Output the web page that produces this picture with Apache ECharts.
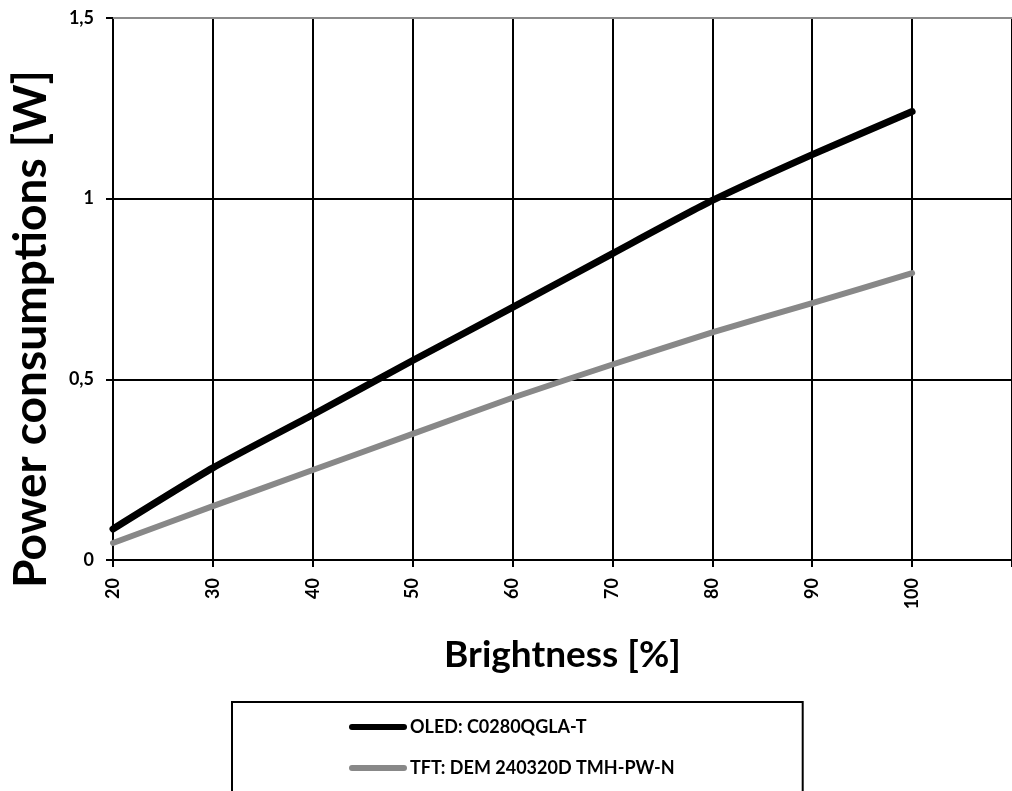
<!DOCTYPE html>
<html>
<head>
<meta charset="utf-8">
<script src="https://cdn.jsdelivr.net/npm/echarts@6/dist/echarts.min.js"></script>
<style>
html,body{margin:0;padding:0;background:#fff;}
#chart{width:1012px;height:791px;}
</style>
</head>
<body>
<div id="chart"></div>
<script>
var brightness = [20, 30, 40, 50, 60, 70, 80, 90, 100];
var oledPower = [0.086, 0.255, 0.402, 0.552, 0.699, 0.848, 0.995, 1.122, 1.241];
var tftPower = [0.047, 0.149, 0.249, 0.349, 0.449, 0.541, 0.630, 0.711, 0.794];
var seriesNames = ['OLED: C0280QGLA-T', 'TFT: DEM 240320D TMH-PW-N'];
var xTitle = 'Brightness [%]';
var yTitle = 'Power consumptions [W]';

function pairs(xs, ys) { return xs.map(function (x, i) { return [x, ys[i]]; }); }

var FONT = 'Lato';
var chart = echarts.init(document.getElementById('chart'), null, {renderer: 'canvas'});
var pill = 'path://M3,0 H55 A3,3 0 0 1 55,6 H3 A3,3 0 0 1 3,0 Z';
chart.setOption({
  animation: false,
  backgroundColor: '#fff',
  grid: {left: 113, right: -7.3, top: 18, bottom: 231, containLabel: false},
  xAxis: [{
    type: 'value', min: 20, max: 110, interval: 10,
    name: xTitle, nameLocation: 'middle', nameGap: 77,
    nameTextStyle: {fontFamily: FONT, fontWeight: 'bold', fontSize: 37, color: '#000'},
    axisLine: {show: true, lineStyle: {color: '#000', width: 2}},
    axisTick: {show: true, length: 7, lineStyle: {color: '#000', width: 2}},
    axisLabel: {rotate: 90, margin: 18, fontFamily: FONT, fontWeight: 'bold', fontSize: 18, color: '#000',
      formatter: function (v) { return v > 100 ? '' : String(v); }},
    splitLine: {show: true, lineStyle: {color: '#000', width: 2}}
  }, {
    type: 'value', position: 'top', min: 20, max: 110,
    axisLine: {show: true, onZero: false, lineStyle: {color: '#8c8c8c', width: 2}},
    axisTick: {show: false}, axisLabel: {show: false}, splitLine: {show: false}
  }],
  yAxis: {
    type: 'value', min: 0, max: 1.5, interval: 0.5,
    name: yTitle, nameLocation: 'middle', nameGap: 59,
    nameTextStyle: {fontFamily: FONT, fontWeight: 'bold', fontSize: 46, color: '#000', padding: [0, 80, 0, 0]},
    axisLine: {show: true, lineStyle: {color: '#000', width: 2}},
    axisTick: {show: true, length: 7, lineStyle: {color: '#000', width: 2}},
    axisLabel: {margin: 19, fontFamily: FONT, fontWeight: 'bold', fontSize: 18, color: '#000',
      formatter: function (v) { return String(v).replace('.', ','); }},
    splitLine: {show: true, lineStyle: {color: '#000', width: 2}}
  },
  legend: {
    orient: 'vertical', left: 232, top: 702, height: 200,
    padding: [16, 128, 30, 117],
    itemGap: 23, itemWidth: 58, itemHeight: 6,
    borderColor: '#000', borderWidth: 2, backgroundColor: '#fff',
    textStyle: {fontFamily: FONT, fontWeight: 'bold', fontSize: 18, color: '#000', padding: [0, 0, 0, -2]},
    data: [{name: seriesNames[0], icon: pill}, {name: seriesNames[1], icon: pill}]
  },
  series: [{
    name: seriesNames[0], type: 'line', data: pairs(brightness, oledPower),
    showSymbol: false, symbol: 'none', smooth: 0.2,
    color: '#000', lineStyle: {color: '#000', width: 7, cap: 'round', join: 'round'}, z: 4
  }, {
    name: seriesNames[1], type: 'line', data: pairs(brightness, tftPower),
    showSymbol: false, symbol: 'none', smooth: 0.2,
    color: '#888888', lineStyle: {color: '#888888', width: 6, cap: 'round', join: 'round'}, z: 3
  }]
});
</script>
</body>
</html>
